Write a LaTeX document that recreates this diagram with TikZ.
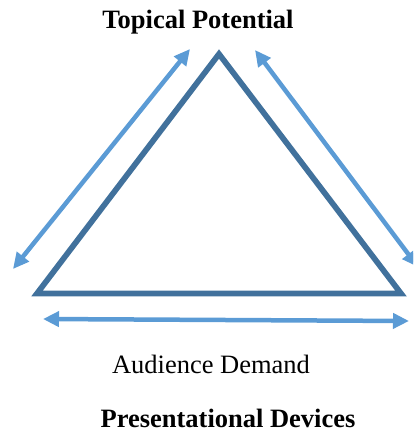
\documentclass[tikz,border=0pt]{standalone}
\usepackage{fontspec}
\setmainfont{Liberation Serif}
\usetikzlibrary{arrows.meta}
\definecolor{tri}{HTML}{41719C}
\definecolor{arr}{HTML}{5B9BD5}
\begin{document}
\begin{tikzpicture}[x=1pt,y=-1pt,
  label/.style={inner sep=0pt,anchor=base,font=\fontsize{26.5}{30}\selectfont},
  side/.style={draw=tri,line width=5.7pt,line join=miter},
  dbl/.style={draw=arr,line width=4.5pt,{Triangle[length=16pt,width=15pt]}-{Triangle[length=16pt,width=15pt]}}]
\useasboundingbox (0,0) rectangle (413,433);
\clip (0,0) rectangle (413,433);
\coordinate (apex) at (219,54);
\coordinate (bl) at (37,293.5);
\coordinate (br) at (401,293.5);
\draw[side] (apex) -- (bl) -- (br) -- cycle;
\coordinate (l1) at (190,49);
\coordinate (l2) at (13,269);
\coordinate (r1) at (255,50);
\coordinate (r2) at (418,267);
\coordinate (b1) at (43,319);
\coordinate (b2) at (409,321);
\draw[dbl] (l1) -- (l2);
\draw[dbl] (r1) -- (r2);
\draw[dbl] (b1) -- (b2);
\node[label,font=\fontsize{26.5}{30}\selectfont\bfseries] (tp) at (198,29) {Topical Potential};
\node[label] (ad) at (211,373) {Audience Demand};
\node[label,font=\fontsize{26.5}{30}\selectfont\bfseries] (pd) at (228,427) {Presentational Devices};
\end{tikzpicture}
\end{document}
